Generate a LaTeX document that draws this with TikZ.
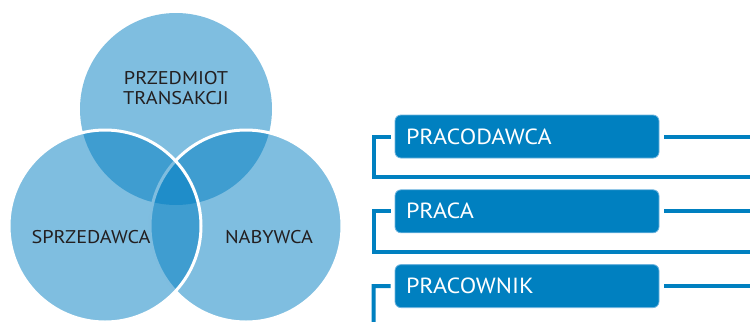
\documentclass[tikz,border=0pt]{standalone}
\usepackage{fontspec}
\setmainfont{PT Sans}[FakeStretch=1.1]
\usetikzlibrary{positioning}
\definecolor{venn}{RGB}{0,125,193}
\definecolor{boxblue}{RGB}{0,128,192}
\definecolor{boxrim}{RGB}{110,180,222}
\definecolor{ink}{RGB}{35,31,32}
\tikzset{
  venntext/.style={text=ink, align=center, font=\fontsize{18.5}{20}\selectfont},
  boxnode/.style={fill=boxblue, draw=boxrim, line width=0.8bp, rounded corners=6bp,
    minimum width=264bp, minimum height=43bp, text width=242bp, inner xsep=11bp,
    align=left, text=white, font=\fontsize{22}{24}\selectfont},
  link/.style={draw=boxblue, line width=4bp},
}
\begin{document}
\begin{tikzpicture}[x=1bp,y=-1bp]
  \useasboundingbox (0,0) rectangle (750,321);
  % venn
  \fill[venn, fill opacity=0.5] (176,109) circle (96bp);
  \filldraw[fill=venn, fill opacity=0.5, draw=white, line width=3bp] (246,226) circle (96bp);
  \filldraw[fill=venn, fill opacity=0.5, draw=white, line width=3bp] (105,226) circle (96bp);
  \node[venntext] (przedmiot) at (176,88) {PRZEDMIOT\\TRANSAKCJI};
  \node[venntext] (sprzedawca) at (91,237) {SPRZEDAWCA};
  \node[venntext] (nabywca) at (269,237) {NABYWCA};
  % boxes
  \node[boxnode] (pracodawca) at (527,136.5) {PRACODAWCA};
  \node[boxnode, below=31bp of pracodawca] (praca) {PRACA};
  \node[boxnode, below=31bp of praca] (pracownik) {PRACOWNIK};
  \coordinate (rim) at (750,0);
  \coordinate (floor) at (0,330);
  \draw[link] ([xshift=-4bp]pracodawca.west) -- ++(-17,0) |- ([yshift=-19bp]pracodawca.south -| rim);
  \draw[link] ([xshift=-4bp]praca.west) -- ++(-17,0) |- ([yshift=-19bp]praca.south -| rim);
  \draw[link] ([xshift=-4bp]pracownik.west) -- ++(-17,0) -- ([xshift=-21bp]pracownik.west |- floor);
  \draw[link] ([xshift=5bp]pracodawca.east) -- (pracodawca.east -| rim);
  \draw[link] ([xshift=5bp]praca.east) -- (praca.east -| rim);
  \draw[link] ([xshift=5bp]pracownik.east) -- (pracownik.east -| rim);
\end{tikzpicture}
\end{document}
